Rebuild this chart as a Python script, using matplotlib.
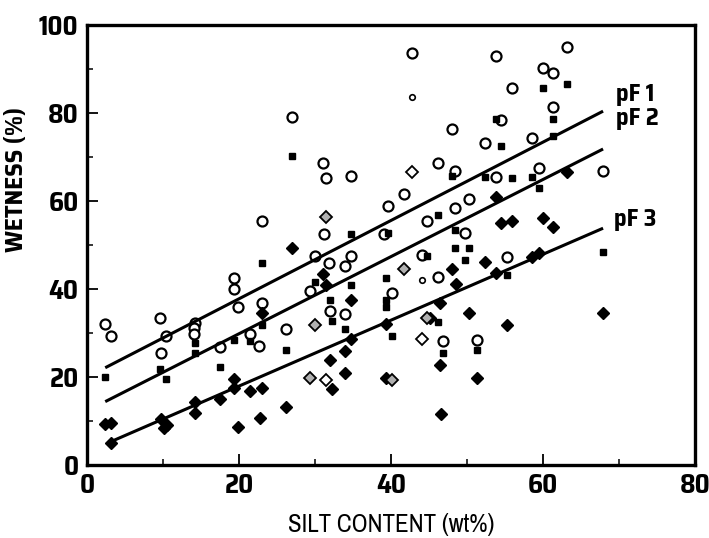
import numpy as np
import matplotlib
matplotlib.use("Agg")
import matplotlib.pyplot as plt

# ── Data ───────────────────────────────────────────────────────────────────────
# open circles
circ_x = [2.4, 3.2, 9.6, 10.4, 9.7, 14.2, 14.1, 14.1, 17.5, 19.3, 19.3, 19.9, 21.4,
          22.6, 23.0, 23.0, 27.0, 31.1, 31.4, 34.7, 31.2, 30.0, 31.8, 34.0, 34.7,
          39.6, 41.7, 39.1, 44.8, 46.2, 44.1, 29.4, 32.0, 34.0, 26.2, 40.1, 46.2,
          46.8, 51.3, 49.8, 55.3, 53.8, 63.2, 60.0, 61.3, 55.9, 61.3, 54.5, 48.0,
          52.4, 58.6, 48.4, 53.8, 59.5, 67.9, 50.2, 48.4, 42.8]
circ_y = [32.1, 29.2, 33.3, 29.2, 25.5, 32.3, 31.2, 29.8, 26.7, 42.6, 39.9, 35.8, 29.8,
          27.1, 55.4, 36.9, 79.0, 68.6, 65.1, 65.6, 52.6, 47.6, 46.0, 45.3, 47.6,
          58.8, 61.5, 52.6, 55.4, 68.6, 47.8, 39.6, 34.9, 34.4, 31.0, 39.0, 42.8,
          28.2, 28.5, 52.8, 47.2, 92.9, 95.0, 90.2, 89.1, 85.6, 81.3, 78.4, 76.3,
          73.1, 74.3, 66.7, 65.4, 67.4, 66.7, 60.4, 58.5, 93.6]
small_circ_x = [42.8, 44.1]
small_circ_y = [83.6, 42.1]

# small filled squares
sq_x = [2.4, 9.6, 10.4, 14.2, 14.2, 17.5, 19.3, 21.4, 23.0, 23.0, 26.2, 27.0, 30.0,
        34.7, 39.6, 46.2, 44.8, 34.7, 32.0, 32.2, 34.0, 39.4, 39.4, 40.1, 39.4,
        63.2, 61.3, 53.8, 54.5, 61.3, 52.4, 55.9, 58.6, 59.5, 48.0, 60.0, 48.4,
        48.4, 50.2, 49.8, 55.3, 46.2, 46.8, 51.3, 67.9]
sq_y = [20.0, 21.9, 19.6, 25.5, 27.8, 22.3, 28.5, 28.2, 46.0, 31.7, 26.2, 70.2, 41.5,
        52.6, 52.8, 56.9, 47.6, 40.8, 37.6, 32.8, 31.0, 42.4, 35.8, 29.4, 37.4,
        86.6, 78.6, 78.6, 72.4, 74.7, 65.4, 65.1, 65.4, 62.9, 65.6, 85.6, 53.3,
        49.4, 49.4, 46.5, 43.1, 32.6, 25.5, 26.2, 48.5]

# filled diamonds
dia_x = [2.4, 3.2, 3.2, 9.7, 10.1, 10.5, 14.2, 14.2, 17.5, 19.3, 19.3, 19.9, 21.4,
         22.8, 23.0, 23.0, 26.2, 27.0, 31.1, 31.4, 34.7, 39.4, 34.7, 34.0, 32.0,
         34.0, 32.2, 39.4, 46.4, 46.6, 46.4, 48.0, 48.6, 52.4, 53.8, 58.6, 59.5,
         45.1, 50.2, 55.3, 67.9, 51.3, 54.5, 55.9, 60.0, 61.3, 53.8, 63.2]
dia_y = [9.3, 9.6, 5.0, 10.5, 8.4, 9.1, 14.4, 11.8, 15.0, 19.6, 17.5, 8.7, 16.9,
         10.7, 17.5, 34.6, 13.2, 49.4, 43.3, 40.8, 37.6, 32.1, 28.7, 26.0, 23.9,
         20.9, 17.3, 19.8, 22.8, 11.6, 36.9, 44.6, 41.2, 46.2, 43.7, 47.2, 48.1,
         33.5, 34.6, 31.9, 34.6, 19.8, 55.1, 55.4, 56.1, 54.1, 60.8, 66.5]

# hatched (grey) diamonds
hdia_x = [29.4, 30.0, 40.1, 44.8, 41.7, 31.4]
hdia_y = [19.8, 31.9, 19.4, 33.3, 44.6, 56.3]
# open diamonds
odia_x = [31.4, 44.1, 42.8]
odia_y = [19.4, 28.7, 66.5]

# regression lines (end points)
line_x = {"pF 1": [2.4, 67.9], "pF 2": [2.4, 67.9], "pF 3": [3.4, 67.9]}
line_y = {"pF 1": [22.1, 80.4], "pF 2": [14.4, 71.8], "pF 3": [5.5, 53.8]}
label_pos = {"pF 1": (69.6, 84.3), "pF 2": (69.6, 78.8), "pF 3": (69.4, 56.0)}

BOLD = ["Saira SemiCondensed", "DejaVu Sans"]
plt.rcParams["font.family"] = ["Archivo Narrow", "DejaVu Sans"]

fig = plt.figure(figsize=(7.09, 5.38), dpi=100)
ax = fig.add_axes([0.1227, 0.1357, 0.8576, 0.818])

ax.plot(circ_x, circ_y, "o", ms=7.2, mfc="white", mec="black", mew=1.6, ls="none")
ax.plot(small_circ_x, small_circ_y, "o", ms=4, mfc="white", mec="black", mew=1.2, ls="none")
ax.plot(sq_x, sq_y, "s", ms=3.8, color="black", ls="none")
ax.plot(dia_x, dia_y, "D", ms=6.3, color="black", ls="none")
ax.plot(hdia_x, hdia_y, "D", ms=6, mfc="#b0b0b0", mec="black", mew=1.3, ls="none")
ax.plot(odia_x, odia_y, "D", ms=6, mfc="white", mec="black", mew=1.3, ls="none")

for name in line_x:
    ax.plot(line_x[name], line_y[name], color="black", lw=2.2, solid_capstyle="butt")
    ax.text(*label_pos[name], name, fontsize=17.5, fontweight="bold", family=BOLD,
            va="center", ha="left")

ax.set_xlim(0, 80)
ax.set_ylim(0, 100)
ax.set_xticks(range(0, 81, 20))
ax.set_xticks(range(10, 80, 20), minor=True)
ax.set_yticks(range(0, 101, 20))
ax.set_yticks(range(10, 100, 20), minor=True)
ax.tick_params(which="major", direction="in", length=8, width=1.3, labelsize=19, pad=6)
ax.tick_params(which="minor", direction="in", length=4, width=1.1)
for lab in ax.get_xticklabels() + ax.get_yticklabels():
    lab.set_fontweight("bold")
    lab.set_family(BOLD)
for sp in ax.spines.values():
    sp.set_linewidth(2.4)

ax.set_xlabel("SILT CONTENT (wt%)", fontsize=18)
ax.xaxis.set_label_coords(0.5, -0.108)
ax.set_ylabel("WETNESS (%)", fontsize=18, fontweight="bold", family=BOLD)
ax.yaxis.set_label_coords(-0.097, 0.65)

fig.savefig("out.png", dpi=100)
